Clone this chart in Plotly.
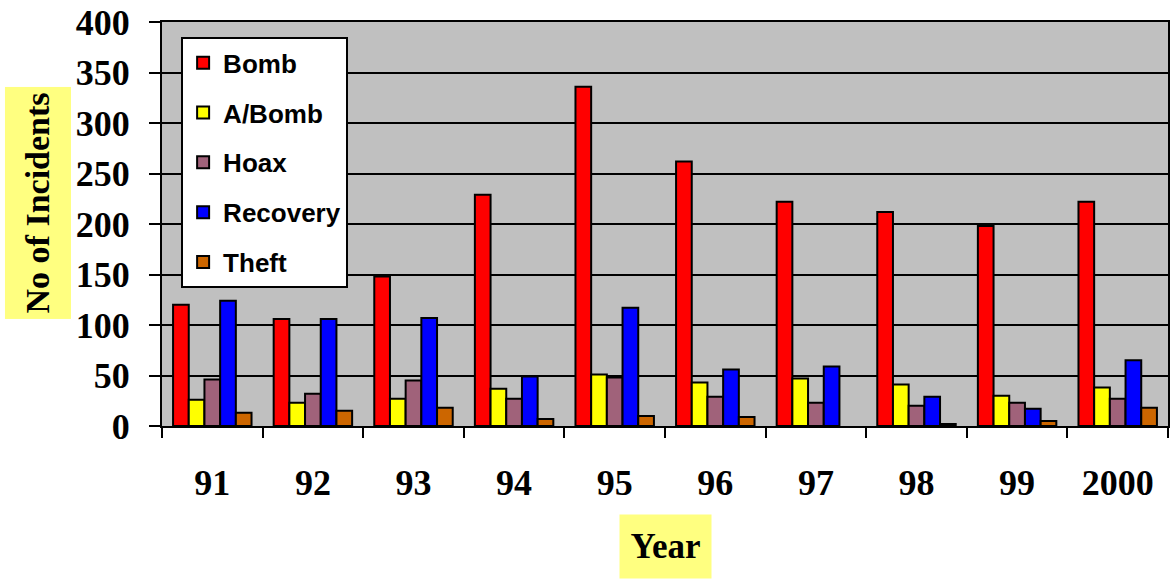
import plotly.graph_objects as go

years = ["91", "92", "93", "94", "95", "96", "97", "98", "99", "2000"]
bomb = [120, 106, 148, 229, 336, 262, 222, 212, 198, 222]
abomb = [26, 23, 27, 37, 51, 43, 47, 41, 30, 38]
hoax = [46, 32, 45, 27, 48, 29, 23, 20, 23, 27]
recovery = [124, 106, 107, 49, 117, 56, 59, 29, 17, 65]
theft = [13, 15, 18, 7, 10, 9, None, 2, 5, 18]

series = [
    ("Bomb", bomb, "#FF0000"),
    ("A/Bomb", abomb, "#FFFF00"),
    ("Hoax", hoax, "#A0627A"),
    ("Recovery", recovery, "#0000FF"),
    ("Theft", theft, "#CC6600"),
]

fig = go.Figure()
for name, vals, col in series:
    fig.add_trace(go.Bar(
        x=years, y=vals, name=name, legendgroup=name,
        marker=dict(color=col, line=dict(color="black", width=2)),
    ))

serif = "Liberation Serif, Times New Roman, serif"
fig.update_layout(
    width=1171, height=579,
    margin=dict(l=162, r=3, t=22, b=153),
    paper_bgcolor="white",
    plot_bgcolor="#C0C0C0",
    barmode="group",
    bargap=0.22,
    bargroupgap=0,
    showlegend=True,
    legend=dict(
        x=0.019, y=0.962, xanchor="left", yanchor="top",
        bgcolor="white", bordercolor="black", borderwidth=2,
        font=dict(family="Liberation Sans, Arial, sans-serif", size=26, color="black", weight="bold"),
        traceorder="grouped", tracegroupgap=13,
        itemsizing="constant",
        entrywidth=150, entrywidthmode="pixels",
    ),
    xaxis=dict(
        type="category", automargin=False,
        showline=True, linecolor="black", linewidth=2, mirror=True,
        ticks="outside", ticklen=10, tickwidth=2, tickcolor="black",
        tickson="boundaries",
        showgrid=False,
        tickfont=dict(family=serif, size=36, color="black", weight="bold"),
        ticklabelstandoff=24,
    ),
    yaxis=dict(
        range=[0, 400], dtick=50, automargin=False,
        showline=True, linecolor="black", linewidth=2, mirror=True,
        ticks="outside", ticklen=11, tickwidth=2, tickcolor="black",
        showgrid=True, gridcolor="black", gridwidth=2,
        zeroline=False,
        tickfont=dict(family=serif, size=36, color="black", weight="bold"),
        ticklabelstandoff=12,
    ),
    annotations=[
        dict(
            text="<b>No of Incidents</b>", xref="paper", yref="paper",
            x=-0.1228, y=0.552, xanchor="center", yanchor="middle",
            textangle=-90, showarrow=False,
            font=dict(family=serif, size=34, color="black"),
            bgcolor="#FFFF80", borderpad=5, width=221, height=55,
        ),
        dict(
            text="<b>Year</b>", xref="paper", yref="paper",
            x=0.5005, y=-0.298, xanchor="center", yanchor="middle",
            showarrow=False,
            font=dict(family=serif, size=35, color="black"),
            bgcolor="#FFFF80", borderpad=8, width=75, height=47,
        ),
    ],
)

fig.write_html("out.html", config={"displayModeBar": False},
               post_script="document.body.style.margin='0';")
